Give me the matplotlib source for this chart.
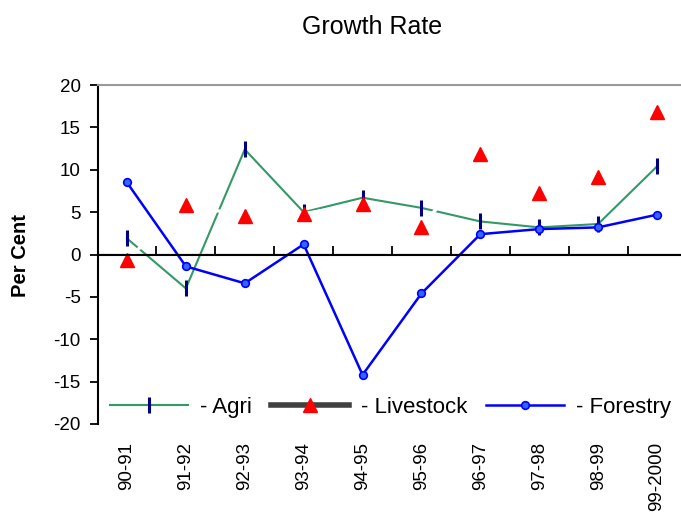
import matplotlib
matplotlib.use("Agg")
import matplotlib.pyplot as plt
from matplotlib.lines import Line2D
import numpy as np

plt.rcParams['font.family'] = ['Liberation Sans', 'DejaVu Sans']
plt.rcParams['axes.unicode_minus'] = False

# Annual growth rates by sub-sector (per cent)
years = ["90-91", "91-92", "92-93", "93-94", "94-95",
         "95-96", "96-97", "97-98", "98-99", "99-2000"]
agri = [1.9, -4.0, 12.4, 5.0, 6.7, 5.5, 3.9, 3.2, 3.6, 10.4]
livestock = [-0.6, 5.8, 4.6, 4.8, 6.0, 3.2, 11.9, 7.2, 9.2, 16.8]
forestry = [8.5, -1.4, -3.4, 1.2, -14.2, -4.6, 2.4, 3.0, 3.2, 4.7]

W, H = 681, 519
fig = plt.figure(figsize=(W / 100, H / 100), dpi=100)
# plot area: x 97.5..686.5 px, y 85..424 px
ax = fig.add_axes([97.5 / W, (H - 424) / H, 589 / W, 339 / H])

x = np.arange(len(years))
ax.plot(x, agri, color="#339966", lw=1.5, marker="|", ms=11, mew=2.2,
        mec="#000080", zorder=2)
ax.plot(x, livestock, color="white", lw=2.5, marker="^", ms=10,
        mfc="#FF0000", mec="#FF0000", zorder=3)
ax.plot(x, forestry, color="#0000FF", lw=1.8, marker="o", ms=5.5,
        mfc="#3366FF", mec="#0000FF", mew=1.2, zorder=4)

ax.set_xlim(-0.5, len(years) - 0.5)
ax.set_ylim(-20, 20)
ax.set_yticks(np.arange(-20, 21, 5))
ax.tick_params(axis="y", direction="out", length=6, width=1.3, pad=6,
               labelsize=13.5)

# category labels along the bottom
ax.set_xticks(x)
ax.set_xticklabels(years, rotation=90, fontsize=13.5)
ax.tick_params(axis="x", length=0, pad=13)

for side in ("bottom", "right"):
    ax.spines[side].set_visible(False)
ax.spines["left"].set_linewidth(1.5)
ax.spines["top"].set_color("#999999")
ax.spines["top"].set_linewidth(1.5)

# zero line with category dividers
zero = ax.secondary_xaxis(0.5)
zero.set_xticks(x[:-1] + 0.5)
zero.set_xticklabels([])
zero.tick_params(direction="out", length=6, width=1.3)
zero.spines["bottom"].set_linewidth(1.5)
ax.axhline(0, color="black", lw=1.5, zorder=5)

handles = [
    Line2D([], [], color="#339966", lw=1.5, marker="|", ms=11, mew=2.2,
           mec="#000080"),
    Line2D([], [], color="#404040", lw=4, marker="^", ms=10,
           mfc="#FF0000", mec="#FF0000"),
    Line2D([], [], color="#0000FF", lw=1.8, marker="o", ms=5.5,
           mfc="#3366FF", mec="#0000FF", mew=1.2),
]
ax.legend(handles, ["- Agri", "- Livestock", "- Forestry"], ncol=3,
          loc="center", bbox_to_anchor=(0.498, 0.05), frameon=False,
          fontsize=16, handlelength=3.5, handletextpad=0.55,
          columnspacing=0.85)

fig.text(372 / W, 1 - 27 / H, "Growth Rate", ha="center", va="center",
         fontsize=18)
fig.text(20 / W, 1 - 256 / H, "Per Cent", ha="center", va="center",
         rotation=90, fontsize=14.5, fontweight="bold")

fig.savefig("out.png", dpi=100)
